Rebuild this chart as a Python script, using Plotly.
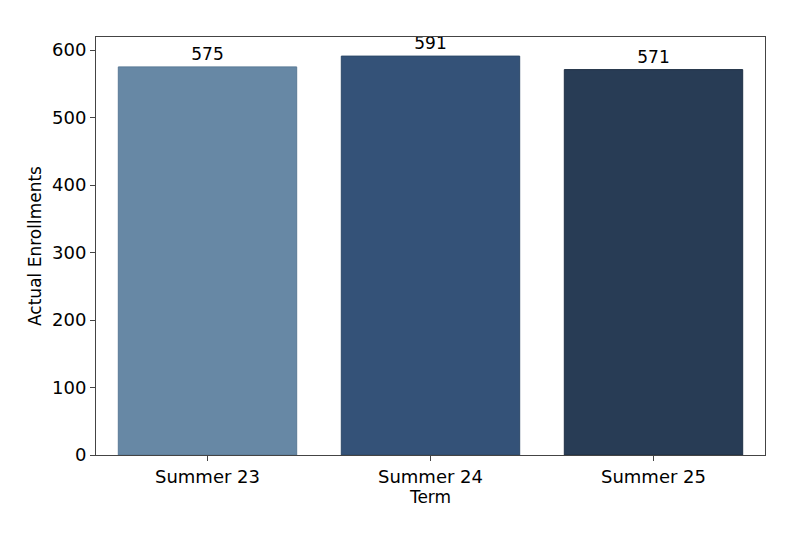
import plotly.graph_objects as go

terms = ["Summer 23", "Summer 24", "Summer 25"]
enrollments = [575, 591, 571]
bar_colors = ["#6788a5", "#345278", "#283c55"]
edge_colors = ["#5a7a96", "#2c4868", "#1f3045"]

fig = go.Figure()
fig.add_trace(go.Bar(
    x=terms, y=enrollments, width=0.8,
    marker=dict(color=bar_colors, line=dict(color=edge_colors, width=1)),
    text=enrollments, textposition="outside", cliponaxis=False,
    textfont=dict(size=17, color="black"),
))

fig.update_layout(
    width=800, height=533,
    margin=dict(l=88, r=43, t=29, b=86),
    paper_bgcolor="white", plot_bgcolor="white",
    font=dict(family="DejaVu Sans", size=17, color="black"),
    showlegend=False, bargap=0.2,
    xaxis=dict(title=dict(text="Term", standoff=0, font=dict(size=17)), range=[-0.5, 2.5],
               tickfont=dict(size=18),
               showline=True, linecolor="#444", mirror=True,
               ticks="outside", ticklen=5, tickcolor="#444"),
    yaxis=dict(title=dict(text="Actual Enrollments", standoff=6, font=dict(size=17)), range=[0, 619.3],
               tickfont=dict(size=18),
               tickvals=[0, 100, 200, 300, 400, 500, 600], showgrid=False, zeroline=False,
               showline=True, linecolor="#444", mirror=True,
               ticks="outside", ticklen=5, tickcolor="#444"),
)

fig.write_html("out.html")
